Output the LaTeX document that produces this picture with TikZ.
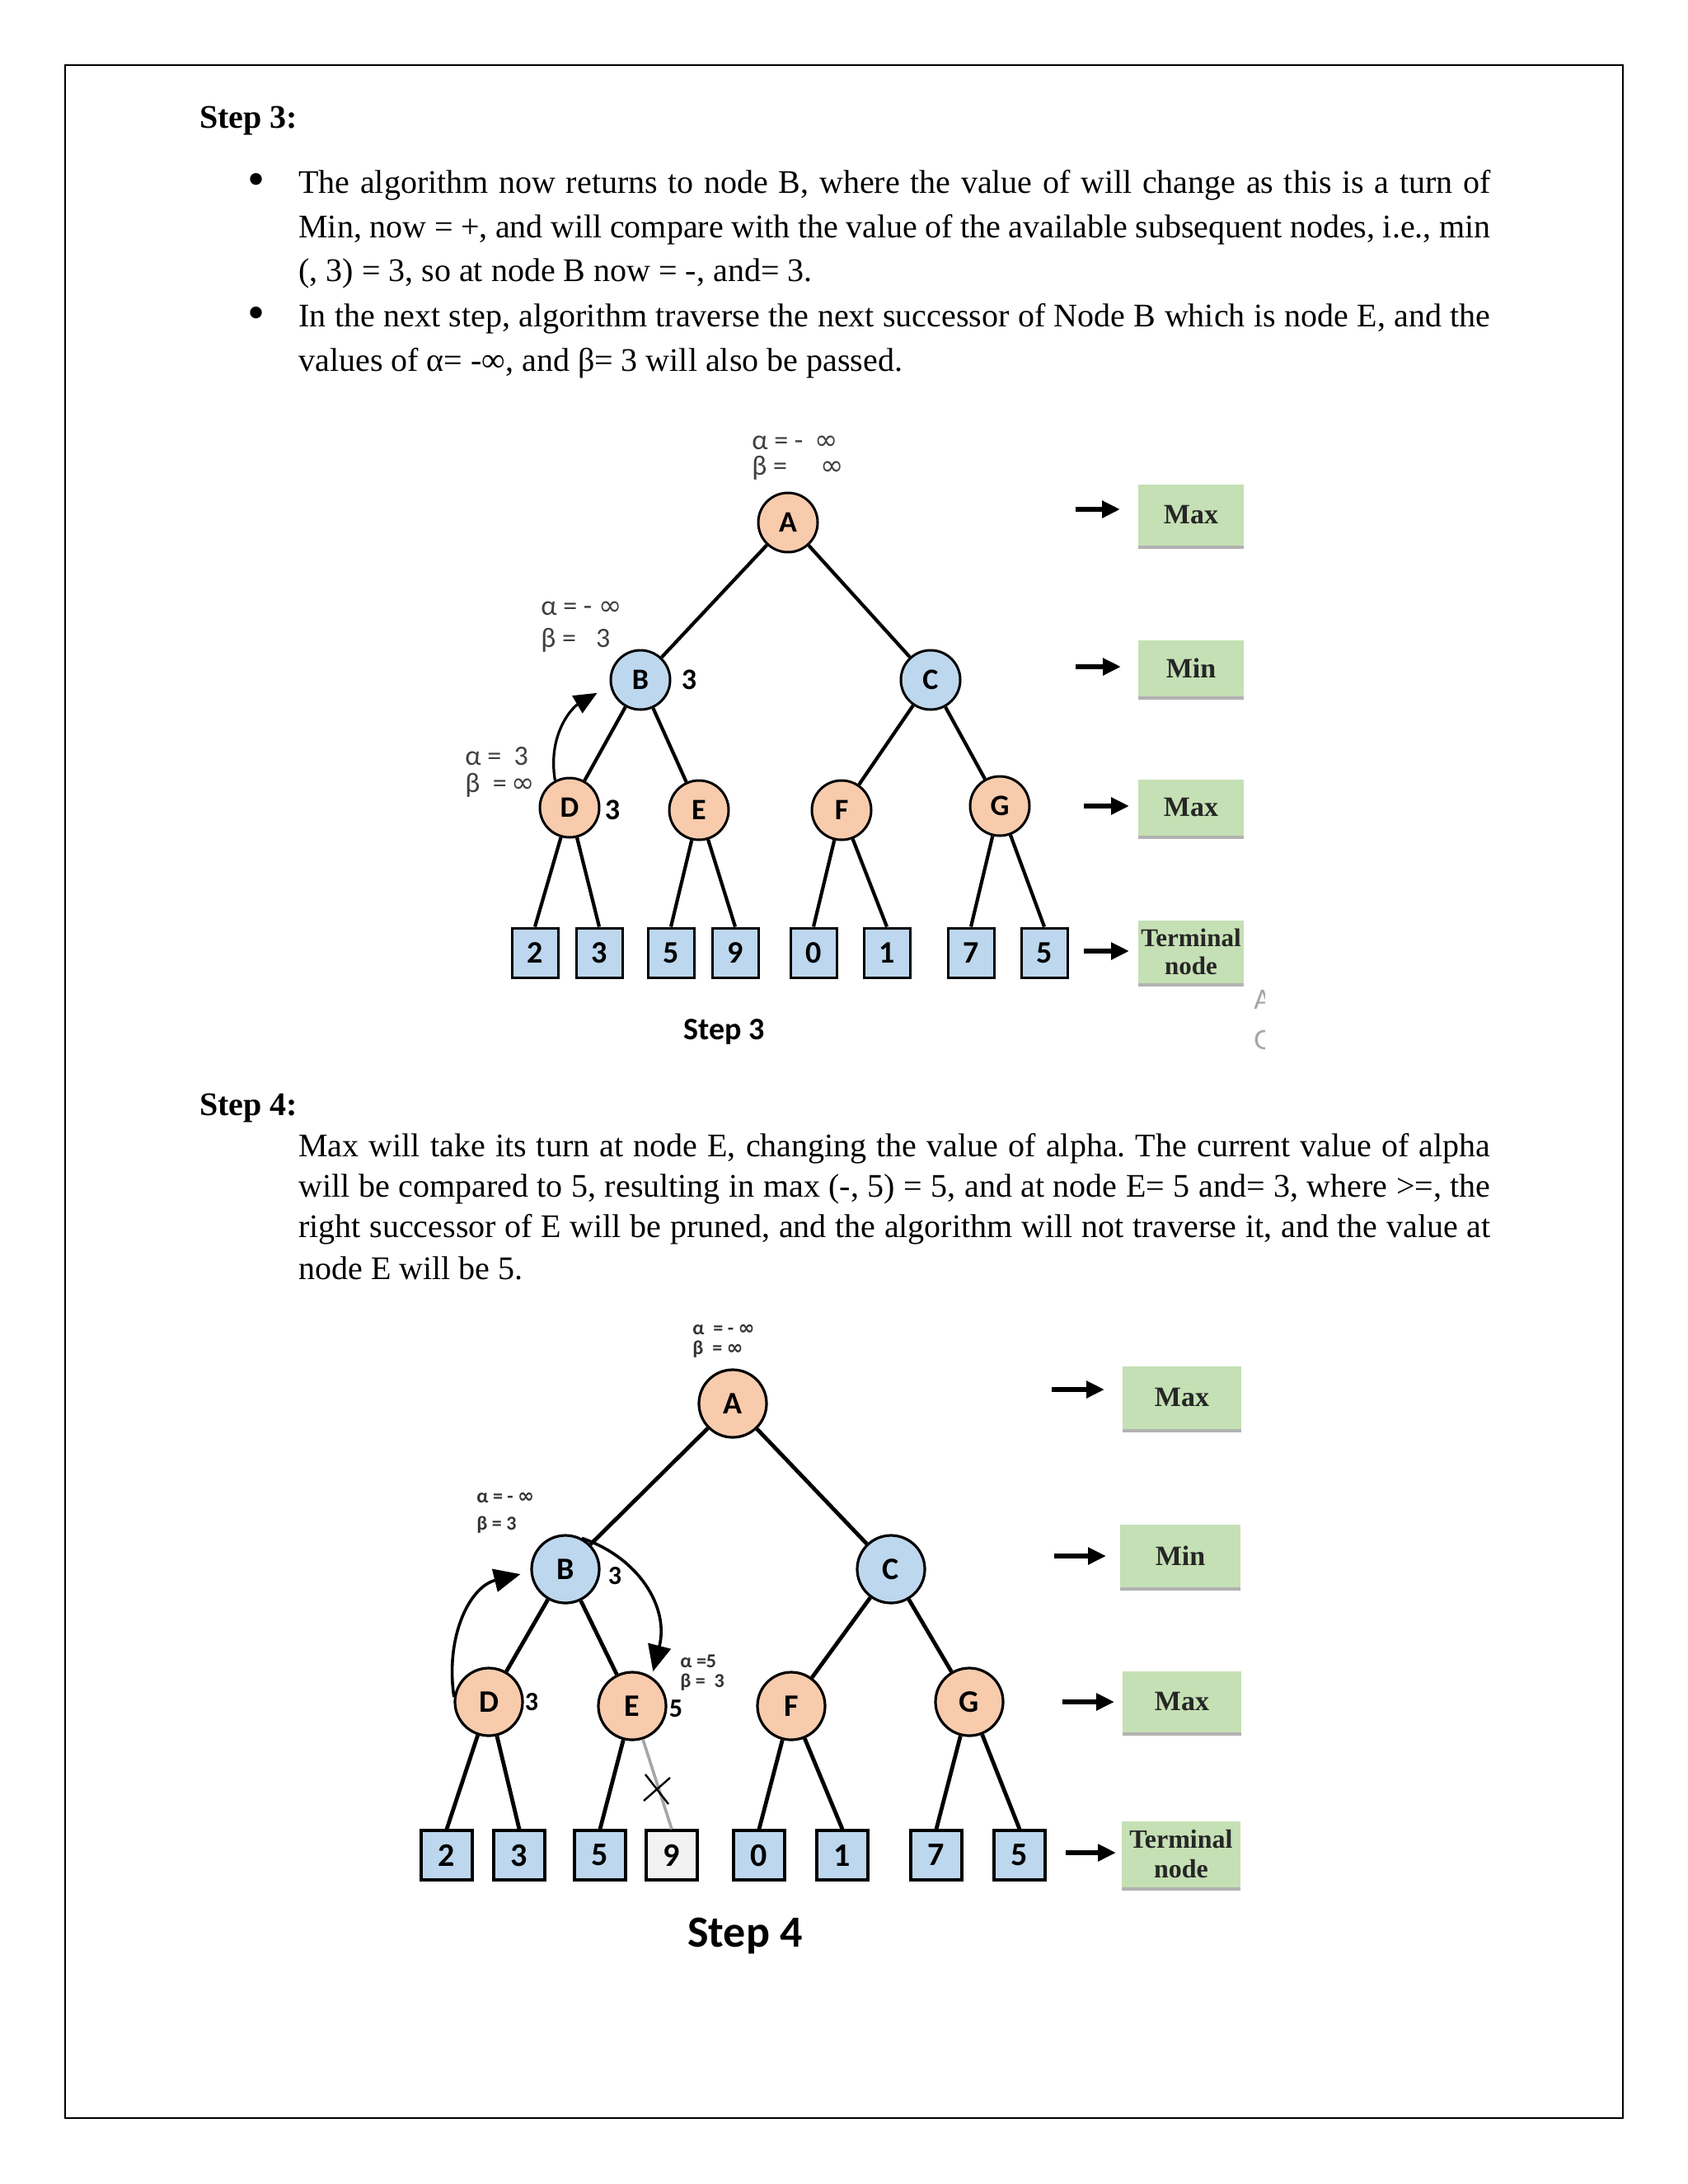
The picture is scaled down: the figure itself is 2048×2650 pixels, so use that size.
\documentclass[tikz,border=0pt]{standalone}
\usepackage{fontspec}
\setmainfont{Liberation Serif}
\newfontfamily\calfont{Carlito}
\newfontfamily\djfont{DejaVu Sans}
\usetikzlibrary{arrows.meta,shadows}
\definecolor{peach}{RGB}{248,203,173}
\definecolor{lblue}{RGB}{189,215,238}
\definecolor{lgreen}{RGB}{197,224,180}
\definecolor{lgrey}{RGB}{242,242,242}
\newcommand{\infs}{{\djfont\char"221E}}
\frenchspacing
\begin{document}
\frenchspacing
\begin{tikzpicture}[x=0.5pt,y=-0.5pt,
  body/.style={anchor=base west, inner sep=0, font=\fontsize{20}{26}\selectfont},
  head/.style={anchor=base west, inner sep=0, font=\bfseries\fontsize{20}{26}\selectfont},
  bul/.style={anchor=base, inner sep=0, font=\fontsize{30}{30}\selectfont},
  tedge/.style={line width=2.1pt},
  uedge/.style={line width=2.4pt},
  amax/.style={circle, draw, line width=1.5pt, fill=peach, inner sep=0, minimum size=36pt, font=\calfont\bfseries\fontsize{18}{18}\selectfont},
  amin/.style={amax, fill=lblue},
  bmax/.style={amax, line width=1.6pt, minimum size=41pt, font=\calfont\bfseries\fontsize{19}{19}\selectfont},
  bmin/.style={bmax, fill=lblue},
  aterm/.style={draw, line width=1.5pt, fill=lblue, inner sep=0, minimum width=28pt, minimum height=30pt, font=\calfont\bfseries\fontsize{19}{19}\selectfont},
  bterm/.style={aterm, line width=1.6pt, minimum width=31pt, minimum height=30pt, font=\calfont\bfseries\fontsize{20}{20}\selectfont},
  legend/.style={fill=lgreen, inner sep=0, align=center, text=black!85, font=\bfseries\fontsize{17}{18}\selectfont, drop shadow={shadow xshift=0pt, shadow yshift=-2pt, fill=black!30, opacity=1}},
  legarrow/.style={line width=2.8pt, -{Triangle[length=11pt,width=10pt]}},
  curv/.style={line width=1.6pt, -{Triangle[length=14pt,width=12pt]}},
  curvb/.style={line width=1.8pt, -{Triangle[length=16pt,width=14pt]}},
  albl/.style={anchor=west, inner sep=0, text=black!75, font=\calfont\fontsize{17}{17}\selectfont},
  blbl/.style={anchor=west, inner sep=0, text=black!80, font=\calfont\bfseries\fontsize{12}{12}\selectfont},
  val/.style={inner sep=0, font=\calfont\bfseries\fontsize{18}{18}\selectfont},
  captxt/.style={inner sep=0, font=\calfont\bfseries\fontsize{19}{19}\selectfont},
]
\useasboundingbox (0,0) rectangle (2048,2650);
\fill[white] (0,0) rectangle (2048,2650);
\draw[line width=0.9pt] (79,79) rectangle (1969,2570);

% ---------- Step 3 text ----------
\node[head] (h3) at (242,155) {Step 3:};
\node[bul] (bu1) at (311,237) {•};
\node[body] (l31) at (362,234) {\makebox[723pt][s]{The algorithm now returns to node B, where the value of will change as this is a turn of}};
\node[body] (l32) at (362,288) {\makebox[723pt][s]{Min, now = +, and will compare with the value of the available subsequent nodes, i.e., min}};
\node[body] (l33) at (362,341) {(, 3) = 3, so at node B now = -, and= 3.};
\node[bul] (bu2) at (311,399) {•};
\node[body] (l34) at (362,396) {\makebox[723pt][s]{In the next step, algorithm traverse the next successor of Node B which is node E, and the}};
\node[body] (l35) at (362,450) {values of α= -∞, and β= 3 will also be passed.};

% ---------- Step 3 tree ----------
\node[amax] (A3) at (956,634) {A};
\node[amin] (B3) at (777,825) {B};
\node[amin] (C3) at (1129,825) {C};
\node[amax] (D3) at (691,980) {D};
\node[amax] (E3) at (848,983) {E};
\node[amax] (F3) at (1021,983) {F};
\node[amax] (G3) at (1213,978) {G};
\node[val] (vB3) at (836,825) {3};
\node[val] (vD3) at (743,983) {3};
\foreach \n/\x/\v in {1/649/2,2/727/3,3/814/5,4/892/9,5/987/0,6/1076/1,7/1178/7,8/1267/5}
  \node[aterm] (t3\n) at (\x,1156) {\v};
\draw[tedge] (A3) -- (B3);
\draw[tedge] (A3) -- (C3);
\draw[tedge] (B3) -- (D3);
\draw[tedge] (B3) -- (E3);
\draw[tedge] (C3) -- (F3);
\draw[tedge] (C3) -- (G3);
\draw[tedge] (D3) -- (t31.north);
\draw[tedge] (D3) -- (t32.north);
\draw[tedge] (E3) -- (t33.north);
\draw[tedge] (E3) -- (t34.north);
\draw[tedge] (F3) -- (t35.north);
\draw[tedge] (F3) -- (t36.north);
\draw[tedge] (G3) -- (t37.north);
\draw[tedge] (G3) -- (t38.north);
% alpha beta labels
\node[albl] (aA3) at (912,537) {α = -\hspace{7pt}\infs};
\node[albl] (bA3) at (912,568) {β =\hspace{20pt}\infs};
\node[albl] (aB3) at (656,738) {α = - \infs};
\node[albl] (bB3) at (656,777) {β =\hspace{12pt}3};
\node[albl] (aD3) at (564,918) {α = \ 3};
\node[albl] (bD3) at (564,953) {β \ =\,\infs};
% curved arrow D -> B
\draw[curv] (D3.118) .. controls (664,890) and (695,858) .. ([shift={(-20,-3)}]B3.210);
% legend
\node[legend, minimum width=64pt, minimum height=37pt] (M31) at (1445,625) {Max};
\node[legend, minimum width=64pt, minimum height=34pt] (M32) at (1445,811) {Min};
\node[legend, minimum width=64pt, minimum height=34pt] (M33) at (1445,980) {Max};
\node[legend, minimum width=64pt, minimum height=38pt, font=\bfseries\fontsize{15.5}{17}\selectfont] (M34) at (1445,1155) {Terminal\\node};
\coordinate (la31) at (1305,618);
\coordinate (la32) at (1305,809);
\coordinate (la33) at (1315,978);
\coordinate (la34) at (1315,1154);
\draw[legarrow] (la31) -- (1359,618);
\draw[legarrow] (la32) -- (1360,809);
\draw[legarrow] (la33) -- (1370,978);
\draw[legarrow] (la34) -- (1370,1154);
\node[captxt] (cap3) at (879,1252) {Step 3};
\begin{scope}
\clip (1518,1190) rectangle (1534,1285);
\node[inner sep=0, text=black!35, font=\calfont\fontsize{18}{18}\selectfont, anchor=west] (wm1) at (1521,1213) {A};
\node[inner sep=0, text=black!35, font=\calfont\fontsize{18}{18}\selectfont, anchor=west] (wm2) at (1521,1262) {G};
\end{scope}

% ---------- Step 4 text ----------
\node[head] (h4) at (242,1353) {Step 4:};
\node[body] (l41) at (362,1403) {\makebox[723pt][s]{Max will take its turn at node E, changing the value of alpha. The current value of alpha}};
\node[body] (l42) at (362,1452) {\makebox[723pt][s]{will be compared to 5, resulting in max (-, 5) = 5, and at node E= 5 and= 3, where >=, the}};
\node[body] (l43) at (362,1501) {\makebox[723pt][s]{right successor of E will be pruned, and the algorithm will not traverse it, and the value at}};
\node[body] (l44) at (362,1552) {node E will be 5.};

% ---------- Step 4 tree ----------
\node[bmax] (A4) at (889,1703) {A};
\node[bmin] (B4) at (686,1904) {B};
\node[bmin] (C4) at (1081,1904) {C};
\node[bmax] (D4) at (593,2065) {D};
\node[bmax] (E4) at (767,2070) {E};
\node[bmax] (F4) at (960,2070) {F};
\node[bmax] (G4) at (1176,2065) {G};
\node[val, font=\calfont\bfseries\fontsize{16}{16}\selectfont] (vB4) at (746,1912) {3};
\node[val, font=\calfont\bfseries\fontsize{16}{16}\selectfont] (vD4) at (645,2065) {3};
\node[val, font=\calfont\bfseries\fontsize{16}{16}\selectfont] (vE4) at (820,2073) {5};
\foreach \n/\x/\v in {1/542/2,2/630/3,3/728/5,5/921/0,6/1022/1,7/1136/7,8/1237/5}
  \node[bterm] (t4\n) at (\x,2251) {\v};
\node[bterm, fill=lgrey] (t44) at (815,2251) {9};
\draw[uedge] (A4) -- (B4);
\draw[uedge] (A4) -- (C4);
\draw[uedge] (B4) -- (D4);
\draw[uedge] (B4) -- (E4);
\draw[uedge] (C4) -- (F4);
\draw[uedge] (C4) -- (G4);
\draw[uedge] (D4) -- (t41.north);
\draw[uedge] (D4) -- (t42.north);
\draw[uedge] (E4) -- (t43.north);
\draw[uedge, draw=black!35, line width=1.8pt] (E4) -- (t44.north);
\draw[uedge] (F4) -- (t45.north);
\draw[uedge] (F4) -- (t46.north);
\draw[uedge] (G4) -- (t47.north);
\draw[uedge] (G4) -- (t48.north);
% prune cross
\coordinate (xc) at (797,2171);
\draw[line width=1.2pt] ([shift={(-14,-18)}]xc) -- ([shift={(14,18)}]xc);
\draw[line width=1.2pt] ([shift={(-16,14)}]xc) -- ([shift={(16,-14)}]xc);
% labels
\node[blbl] (aA4) at (840,1614) {α \ = - \infs};
\node[blbl] (bA4) at (840,1637) {β \ = \infs};
\node[blbl] (aB4) at (578,1817) {α = - \infs};
\node[blbl] (bB4) at (578,1850) {β = 3};
\node[blbl] (aE4) at (825,2016) {α =5};
\node[blbl] (bE4) at (825,2041) {β = \ 3};
% curved arrows
\draw[curvb] (D4.172) .. controls (540,1985) and (570,1925) .. ([shift={(-12,6)}]B4.180);
\draw[curvb] (B4.62) .. controls (775,1890) and (812,1950) .. ([shift={(4,-5)}]E4.60);
% legend
\node[legend, minimum width=72pt, minimum height=38pt] (M41) at (1434,1696) {Max};
\node[legend, minimum width=73pt, minimum height=38pt] (M42) at (1432,1888) {Min};
\node[legend, minimum width=72pt, minimum height=37pt] (M43) at (1434,2065) {Max};
\node[legend, minimum width=72pt, minimum height=40pt, font=\bfseries\fontsize{16}{18}\selectfont] (M44) at (1433,2250) {Terminal\\node};
\coordinate (la41) at (1276,1686);
\coordinate (la42) at (1279,1888);
\coordinate (la43) at (1289,2065);
\coordinate (la44) at (1293,2248);
\draw[legarrow] (la41) -- (1340,1686);
\draw[legarrow] (la42) -- (1342,1888);
\draw[legarrow] (la43) -- (1352,2065);
\draw[legarrow] (la44) -- (1354,2248);
\node[captxt, font=\calfont\bfseries\fontsize{27}{27}\selectfont] (cap4) at (904,2349) {Step 4};
\end{tikzpicture}
\end{document}
